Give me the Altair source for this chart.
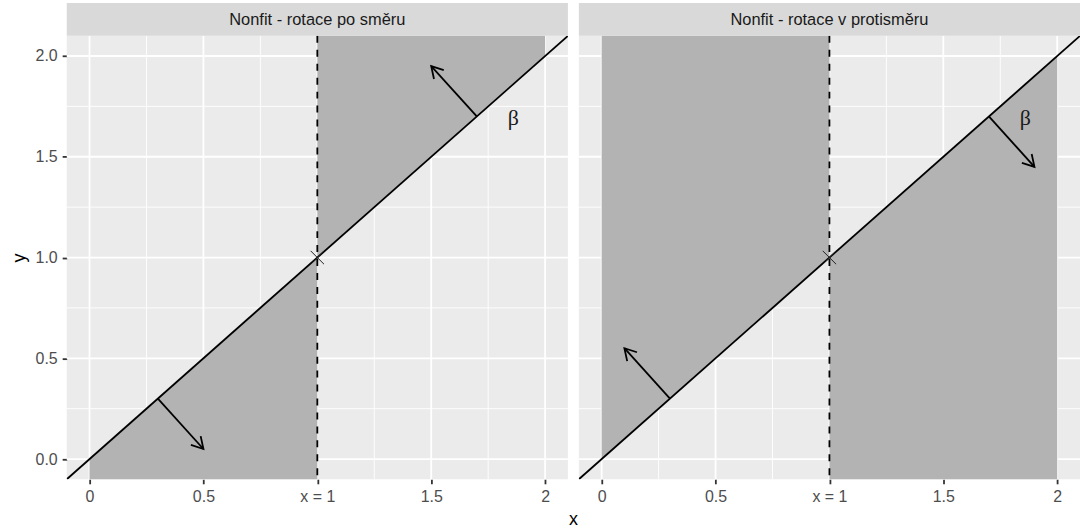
import math
import altair as alt
import pandas as pd

# ---------------- data ----------------
panel_titles = ["Nonfit - rotace po směru", "Nonfit - rotace v protisměru"]
x_title = "x"
y_title = "y"

x_domain = [-0.1, 2.1]
y_domain = [-0.1, 2.1]
major_ticks = [0, 0.5, 1, 1.5, 2]
minor_ticks = [0.25, 0.75, 1.25, 1.75]
x_tick_labels = ["0", "0.5", "x = 1", "1.5", "2"]
y_tick_labels = ["0.0", "0.5", "1.0", "1.5", "2.0"]

# diagonal line y = x
line_x = [-0.1, 2.1]
line_y = [-0.1, 2.1]

# dashed vertical line and marked point
vline_x = [1]
point_x = [1]
point_y = [1]

# shaded regions (vertices along x; line edge and panel edge)
region_id = ["a", "a", "b", "b"]
region_x = [0, 1, 1, 2]
region_line_y = [0, 1, 1, 2]
left_region_edge = [-0.1, -0.1, 2.1, 2.1]
right_region_edge = [2.1, 2.1, -0.1, -0.1]

# arrows
arrow_x = [0.3, 1.7]
arrow_y = [0.3, 1.7]
left_arrow_xend = [0.5, 1.5]
left_arrow_yend = [0.05, 1.95]
right_arrow_xend = [0.1, 1.9]
right_arrow_yend = [0.55, 1.45]

# beta labels
beta_x = [1.86]
beta_y = [1.69]
beta_text = ["β"]

# ---------------- styling ----------------
W, H = 503, 445
SPACING = 11
STRIP_H = 33
FONT = "Liberation Sans"
SHADE = "#B3B3B3"
LW = 1.8

kx = W / (x_domain[1] - x_domain[0])
ky = H / (y_domain[1] - y_domain[0])

xs = alt.Scale(domain=x_domain, nice=False, zero=False)
ys = alt.Scale(domain=y_domain, nice=False, zero=False)


def label_expr(values, labels):
    expr = "''"
    for v, l in reversed(list(zip(values, labels))):
        expr = f"datum.value == {v} ? '{l}' : ({expr})"
    return expr


def panel(title, edge, xend, yend, first):
    x_axis = alt.Axis(values=major_ticks, labelExpr=label_expr(major_ticks, x_tick_labels),
                      grid=False, domain=False, tickColor="#333333", tickSize=4.6,
                      tickWidth=LW, labelColor="#4D4D4D", labelFontSize=16,
                      labelPadding=5, title=None)
    if first:
        y_axis = alt.Axis(values=major_ticks, labelExpr=label_expr(major_ticks, y_tick_labels),
                          grid=False, domain=False, tickColor="#333333", tickSize=4.6,
                          tickWidth=LW, labelColor="#4D4D4D", labelFontSize=16,
                          labelPadding=5, title=y_title, titleFontSize=18,
                          titleFontWeight="normal", titleColor="black", titlePadding=7)
    else:
        y_axis = alt.Axis(values=major_ticks, labels=False, ticks=False, domain=False,
                          grid=False, title=None)

    def X(f):
        return alt.X(f, scale=xs, axis=x_axis)

    def Y(f):
        return alt.Y(f, scale=ys, axis=y_axis)

    grid_major = pd.DataFrame({"v": major_ticks})
    grid_minor = pd.DataFrame({"v": minor_ticks})

    gx_minor = alt.Chart(grid_minor).mark_rule(color="white", strokeWidth=0.9).encode(x=X("v:Q"))
    gy_minor = alt.Chart(grid_minor).mark_rule(color="white", strokeWidth=0.9).encode(y=Y("v:Q"))
    gx_major = alt.Chart(grid_major).mark_rule(color="white", strokeWidth=1.8).encode(x=X("v:Q"))
    gy_major = alt.Chart(grid_major).mark_rule(color="white", strokeWidth=1.8).encode(y=Y("v:Q"))

    reg = pd.DataFrame({"id": region_id, "x": region_x, "y": region_line_y, "y2": edge})
    area = alt.Chart(reg).mark_area(color=SHADE, opacity=1).encode(
        x=X("x:Q"), y=Y("y:Q"), y2="y2:Q", detail="id:N")

    ldf = pd.DataFrame({"x": line_x, "y": line_y})
    diag = alt.Chart(ldf).mark_line(color="black", strokeWidth=LW, clip=True).encode(
        x=X("x:Q"), y=Y("y:Q"))

    vdf = pd.DataFrame({"x": vline_x})
    vline = alt.Chart(vdf).mark_rule(color="black", strokeWidth=LW, strokeDash=[7, 7]).encode(
        x=X("x:Q"))

    pdf = pd.DataFrame({"x": point_x, "y": point_y})
    pt = alt.Chart(pdf).mark_point(shape="M -1 -1 L 1 1 M -1 1 L 1 -1", filled=False,
                                   size=180, color="#222222", strokeWidth=1.0, opacity=1).encode(
        x=X("x:Q"), y=Y("y:Q"))

    angles = [math.degrees(math.atan2((xe - x0) * kx, (ye - y0) * ky)) % 360
              for x0, y0, xe, ye in zip(arrow_x, arrow_y, xend, yend)]
    adf = pd.DataFrame({"x": arrow_x, "y": arrow_y, "xe": xend, "ye": yend, "ang": angles})
    shafts = alt.Chart(adf).mark_rule(color="black", strokeWidth=LW).encode(
        x=X("x:Q"), y=Y("y:Q"), x2="xe:Q", y2="ye:Q")
    heads = alt.Chart(adf).mark_point(shape="M -0.5 0.866 L 0 0 L 0.5 0.866", filled=False,
                                      size=700, color="black", strokeWidth=LW, opacity=1).encode(
        x=X("xe:Q"), y=Y("ye:Q"), angle=alt.Angle("ang:Q", scale=None))

    bdf = pd.DataFrame({"x": beta_x, "y": beta_y, "t": beta_text})
    beta = alt.Chart(bdf).mark_text(font="Liberation Serif", fontSize=22, color="#1A1A1A",
                                    align="center", baseline="middle").encode(
        x=X("x:Q"), y=Y("y:Q"), text="t:N")

    sdf = pd.DataFrame({"t": [title]})
    strip_bg = alt.Chart(sdf).mark_rect(color="#D9D9D9").encode(
        x=alt.value(0), x2=alt.value(W), y=alt.value(-STRIP_H), y2=alt.value(0))
    strip_tx = alt.Chart(sdf).mark_text(fontSize=16.5, color="#1A1A1A", font=FONT,
                                        align="center", baseline="middle").encode(
        x=alt.value(W / 2), y=alt.value(-STRIP_H / 2 + 1), text="t:N")

    layers = [gx_minor, gy_minor, gx_major, gy_major, area, diag, vline, pt,
              shafts, heads, beta, strip_bg, strip_tx]

    if first:
        # shared x-axis title, centred under both panels
        tdf = pd.DataFrame({"t": [x_title]})
        xt = alt.Chart(tdf).mark_text(fontSize=18, color="black", font=FONT,
                                      align="center", baseline="middle").encode(
            x=alt.value(W + SPACING / 2), y=alt.value(H + 41), text="t:N")
        layers.append(xt)

    return alt.layer(*layers).properties(width=W, height=H)


left = panel(panel_titles[0], left_region_edge, left_arrow_xend, left_arrow_yend, True)
right = panel(panel_titles[1], right_region_edge, right_arrow_xend, right_arrow_yend, False)

chart = alt.hconcat(left, right, spacing=SPACING, bounds="flush").properties(
    padding={"left": 10, "top": 2, "right": 0, "bottom": 2},
    background="white",
).configure(font=FONT, view=alt.ViewConfig(fill="#EBEBEB", stroke=None))

chart.save("out.html", embed_options={"renderer": "svg", "actions": False})
